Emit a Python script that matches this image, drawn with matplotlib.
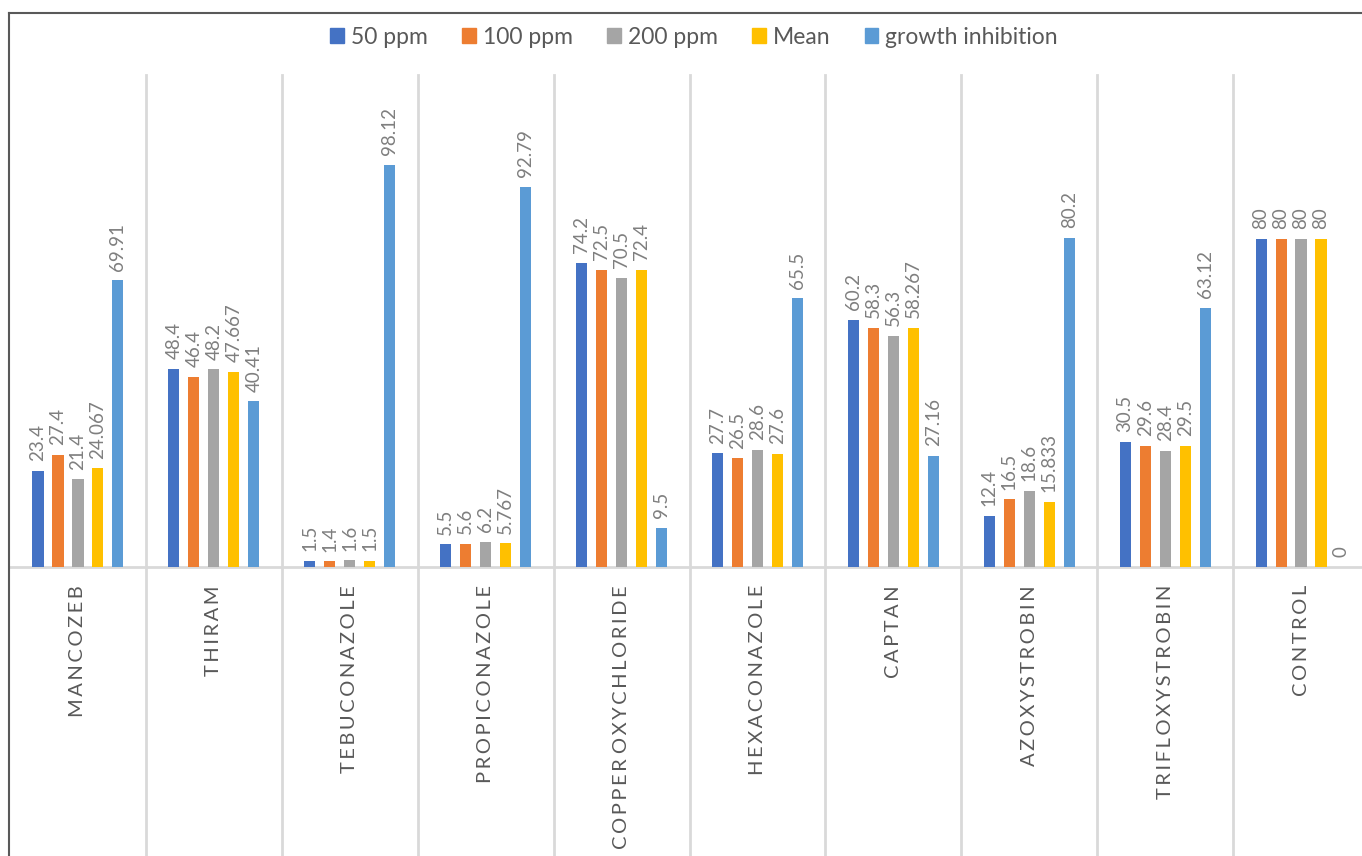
import matplotlib
matplotlib.use('Agg')
import matplotlib.pyplot as plt
from matplotlib.lines import Line2D
from matplotlib.patches import Patch
import numpy as np

plt.rcParams['font.family'] = ['Lato', 'DejaVu Sans']

categories = ['MANCOZEB', 'THIRAM', 'TEBUCONAZOLE', 'PROPICONAZOLE', 'COPPER OXYCHLORIDE',
              'HEXACONAZOLE', 'CAPTAN', 'AZOXYSTROBIN', 'TRIFLOXYSTROBIN', 'CONTROL']
series_names = ['50 ppm', '100 ppm', '200 ppm', 'Mean', 'growth inhibition']
ppm50 = [23.4, 48.4, 1.5, 5.5, 74.2, 27.7, 60.2, 12.4, 30.5, 80]
ppm100 = [27.4, 46.4, 1.4, 5.6, 72.5, 26.5, 58.3, 16.5, 29.6, 80]
ppm200 = [21.4, 48.2, 1.6, 6.2, 70.5, 28.6, 56.3, 18.6, 28.4, 80]
mean = ['24.067', '47.667', '1.5', '5.767', '72.4', '27.6', '58.267', '15.833', '29.5', '80']
growth = ['69.91', '40.41', '98.12', '92.79', '9.5', '65.5', '27.16', '80.2', '63.12', '0']

colors = ['#4472C4', '#ED7D31', '#A5A5A5', '#FFC000', '#5B9BD5']
grid_c = '#d9d9d9'
text_c = '#595959'

fig = plt.figure(figsize=(13.62, 8.56), dpi=100, facecolor='white')
ax = fig.add_axes([10/1362, (856-567)/856, 1359/1362, (567-75)/856])
ax.set_xlim(-0.5, 9.5)
ax.set_ylim(0, 120)
ax.axis('off')

x = np.arange(len(categories))
all_series = [ppm50, ppm100, ppm200, mean, growth]
step = 0.147
for k, (vals, c) in enumerate(zip(all_series, colors)):
    labels = [str(v) for v in vals]
    bars = ax.bar(x + (k - 2) * step, [float(v) for v in vals], 0.082, color=c, zorder=3)
    ax.bar_label(bars, labels=labels, rotation=90, padding=7, color='#7f7f7f', fontsize=13.5)

# baseline and category separators
ax.plot([-0.5, 9.6], [0, 0], color=grid_c, lw=2, clip_on=False, zorder=2)
for b in np.arange(0.5, 9.5, 1):
    ax.plot([b, b], [-0.62, 1], transform=ax.get_xaxis_transform(), color=grid_c,
            lw=2, clip_on=False, zorder=1)

# spaced-out category labels
for i, name in enumerate(categories):
    spaced = '\u2009'.join(name).replace('\u2009 \u2009', ' ')
    ax.annotate(spaced, xy=(i, 0), xytext=(0, -13), textcoords='offset points',
                rotation=90, ha='center', va='top', fontsize=14.5, color=text_c)

# outer frame (left and top only visible)
fig.add_artist(Line2D([9/1362, 9/1362], [0, 1-13/856], color='#595959', lw=1.5))
fig.add_artist(Line2D([9/1362, 1], [1-13/856, 1-13/856], color='#595959', lw=1.5))

handles = [Patch(color=c, label=n) for c, n in zip(colors, series_names)]
fig.legend(handles=handles, loc='center', bbox_to_anchor=(694/1362, 1-37/856), ncol=5,
           frameon=False, fontsize=16.5, handlelength=0.6, handleheight=0.6,
           handletextpad=0.3, columnspacing=1.5, labelcolor=text_c)

fig.savefig('out.png', dpi=100)
